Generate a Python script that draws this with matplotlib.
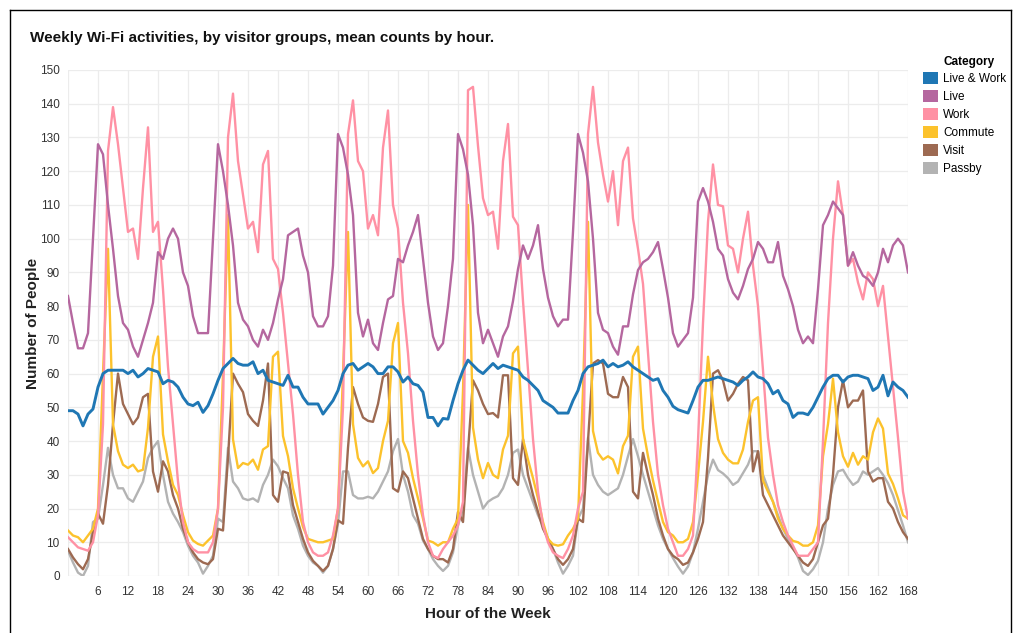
import matplotlib
matplotlib.use("Agg")
import matplotlib.pyplot as plt
from matplotlib.patches import Patch
from matplotlib.lines import Line2D
import numpy as np

plt.rcParams['font.family'] = ['Liberation Sans', 'DejaVu Sans']

## mean counts per hour of the week (h0 .. h168)
hours = np.arange(169)

live_work = [
    49, 49, 48, 44.5, 48, 49.5, 56, 60, 61, 61, 61, 61, 60, 61, 59, 60, 61.5, 61, 60.5, 57, 58, 57.5, 56, 53,
    51, 50.5, 51.5, 48.5, 50.5, 54, 58, 61.5, 63, 64.5, 63, 62.5, 62.5, 63.5, 60, 61, 58, 57.5, 57, 56.5, 59.5, 56, 56, 53,
    51, 51, 51, 48, 50, 52, 55, 60, 62.5, 63, 61, 62, 63, 62, 60, 60, 62, 62, 60.5, 57.5, 59, 57, 56.5, 54.5,
    47, 47, 44.5, 46.7, 46.5, 52, 57, 61, 64, 62.5, 61, 60, 61.5, 63, 61.5, 62.5, 62, 61.5, 61, 59, 58, 56.5, 55, 52,
    51, 50, 48.3, 48.3, 48.3, 52, 55, 60, 62, 62.5, 63, 64, 62, 63, 62, 62.5, 63.5, 62, 61, 60, 59, 58, 58.5, 55,
    53, 50.3, 49.3, 48.8, 48.3, 52, 56, 58, 58, 58.5, 59, 58.5, 58, 57.5, 56.5, 58, 59, 60.5, 59, 58.5, 57, 54, 55, 52,
    51, 47, 48.3, 48.3, 47.8, 50, 53, 56, 58.5, 59.5, 59.5, 57.5, 59, 59.5, 59.5, 59, 58.5, 55, 56, 59.5, 53.4, 57.5, 56, 55, 53,
]

live = [
    83, 75, 67.5, 67.5, 72, 100, 128, 125, 110, 97, 83, 75, 73, 68, 65, 70, 75, 81, 96, 94, 100, 103, 100, 90,
    86, 77, 72, 72, 72, 100, 128, 120, 110, 98, 81, 76, 74, 70, 68, 73, 70, 75, 82, 88, 101, 102, 103, 95,
    90, 77, 74, 74, 77, 92, 131, 127, 119, 107, 78, 71, 76, 69, 67, 75, 82, 83, 94, 93, 98, 102, 107, 94,
    81, 71, 67, 69, 80, 94, 131, 126.5, 119, 104, 78, 69, 73, 69, 65, 71, 74, 81.5, 91, 98, 94, 98, 104, 91,
    82.5, 77, 74, 76, 76, 102, 131, 125.5, 117, 100, 78, 73, 72, 68, 65.6, 74, 74, 83.5, 90.7, 93, 94, 96, 99, 91,
    82.5, 72, 68, 70, 72, 82.5, 111, 115, 111, 105, 97, 95, 88, 84, 82, 86, 91, 94, 99, 97, 93, 93, 99, 89,
    85, 80, 73, 69, 71, 69, 85, 104, 107, 111, 109, 107, 92, 96, 92, 89, 88, 86, 90, 97, 93, 98, 100, 98, 90,
]

work = [
    11.5, 10, 8.5, 8, 7.5, 10, 18, 45, 126, 139, 128, 115, 102, 103, 94, 115, 133, 102, 105, 85, 62, 45, 28, 16,
    10, 8, 7, 7, 7, 10, 20, 50, 130, 143, 123, 113, 103, 105, 96, 122, 126, 94, 91, 78, 63, 48, 30, 16,
    10, 7, 6, 6, 7, 12, 20, 50, 131, 141, 123, 120, 103, 107, 101, 127, 138, 110, 103, 81, 66, 46, 30, 18,
    10, 6, 5.3, 8, 10, 12, 15, 22, 144, 145, 127.5, 112, 107, 108, 97, 123, 134, 106.5, 104, 81.5, 61, 40.6, 25, 15,
    10, 7, 6, 5.3, 8, 12, 20, 25, 131, 145, 128.5, 119, 111, 120, 104, 123, 127, 106, 97, 86.6, 66, 45.7, 30, 21,
    14, 10, 6, 6, 8, 12, 40, 75, 105, 122, 110, 109.6, 98, 97, 90, 100, 108, 92, 80, 61, 41, 30, 21, 16,
    12, 9, 6, 6, 6, 8, 10, 40, 75, 100, 117, 107, 92, 94, 87, 82, 90, 88, 80, 86, 71, 56, 41, 25, 17,
]

commute = [
    13.5, 12, 11.5, 10, 12, 14, 20, 60, 97, 45, 37, 33, 32, 33, 31, 31.5, 44, 65, 71, 42, 34, 27, 24, 18,
    13, 10.5, 9.5, 9, 10.5, 12, 20, 60, 107, 40.5, 32, 33.5, 33, 34.5, 31.5, 37.5, 38.5, 65, 66.5, 41.5, 35.5, 26, 20, 14.5,
    11, 10.5, 10, 10, 10.5, 11, 20, 60, 102, 45, 35, 32.5, 34, 30.5, 32, 40, 46, 69, 75, 40, 36.5, 29, 23, 17,
    10.5, 10, 9, 10, 10, 14, 17, 55, 110, 44, 34.5, 29, 33.5, 30, 29, 37.5, 41.6, 66, 68, 40.6, 34.5, 29, 23, 16,
    11, 9.4, 9, 9.4, 12, 14, 17, 55, 105, 43, 36.5, 34.5, 35.5, 34.5, 30.4, 38.5, 41.6, 65, 68, 43.7, 35.5, 28.3, 22, 16,
    13, 12, 10, 10, 11, 16, 30, 45.7, 65, 51, 40.6, 36.5, 34.5, 33.4, 33.4, 37.5, 45.7, 52, 53, 28.3, 25, 22, 17, 14,
    12, 10.4, 10, 9, 9, 10, 15, 35.5, 45, 58.5, 42.6, 35.5, 32.4, 36.5, 33, 35.5, 34.5, 42.6, 46.7, 43.7, 30.4, 27.3, 23, 18, 17,
]

visit = [
    8, 5.5, 3.5, 2, 5, 13, 18.5, 15.5, 27, 45, 60, 51, 48, 45, 47, 53, 54, 31, 25, 34, 31, 24, 20, 14,
    10, 7, 5, 4, 3.5, 5, 14, 13.5, 35, 60, 57, 54.5, 48, 46, 44.5, 52, 63, 24, 22, 31, 30.5, 21, 16, 11,
    7, 4.5, 3, 1.5, 3, 8, 16.5, 15.5, 38, 56, 51, 47, 46, 45.7, 51, 59, 60, 26, 25, 31, 29, 23, 17, 11,
    8, 6, 5, 5, 4, 8, 19, 16, 37, 58, 55, 51, 48, 48.3, 47, 59.5, 59.5, 29, 27, 40.6, 30, 24, 19, 14,
    11, 8, 5, 3.3, 5, 8, 17, 16, 40, 63, 64, 63, 54, 53, 53, 59, 56, 25, 23, 36.5, 30, 24, 17, 12,
    8, 6, 5, 3.3, 4, 7, 11, 16, 35, 60, 61, 58, 52, 54, 57, 59, 58, 31, 37, 24, 21, 18, 15, 12,
    10, 8, 6, 4, 3, 5, 10, 15, 17, 30, 50, 58, 50, 52, 52, 55, 31, 28, 29, 29, 22, 20, 16, 13, 11,
]

passby = [
    7.5, 4, 1, 0, 3, 16, 17, 27, 38, 30, 26, 26, 23, 22, 25, 28, 35, 38, 40, 30, 22, 18.5, 16, 13,
    9, 6, 4, 0.7, 3, 6, 17, 16, 38, 28, 26, 23, 22.5, 23, 22, 27, 30, 34.5, 32.5, 29, 26, 18, 14, 9,
    6, 4, 3, 1, 3, 8, 15.5, 31, 31, 24, 23, 23, 23.5, 23, 25, 28, 31, 37, 40.6, 30, 25, 18, 15.5, 10.5,
    8, 5, 3, 1.5, 3, 7, 15, 20, 38, 30, 25, 20, 22, 23, 23.7, 26, 30, 36.5, 37.5, 30, 26, 22, 18, 15,
    11, 8, 4, 0.7, 3, 6, 17, 20, 41, 30, 27, 25, 24, 25, 26, 30, 35.5, 40.6, 35.5, 30, 25, 20, 15, 11,
    8, 5.3, 2.8, 0.7, 2.8, 7, 14, 22, 30, 34.5, 31.4, 30.4, 29, 27, 28, 30.5, 33, 37, 37, 30, 26, 22, 18, 14,
    11, 8.5, 5.5, 1.5, 0.3, 2, 4.5, 10, 20, 27, 31, 31.5, 29, 27, 28, 31, 30, 31, 32, 30, 27.5, 24, 19.5, 15, 10,
]

categories = ['Live & Work', 'Live', 'Work', 'Commute', 'Visit', 'Passby']
colors = ['#1f77b4', '#b5679f', '#ff91a4', '#fcc22c', '#9d6a52', '#b3b3b3']
series = [live_work, live, work, commute, visit, passby]

W, H = 1014, 633
fig = plt.figure(figsize=(W / 100, H / 100), dpi=100)
ax = fig.add_axes([68 / W, 1 - 576 / H, 840 / W, 506 / H])

# draw back to front so the blue line ends up on top
for name, col, vals in list(zip(categories, colors, series))[::-1]:
    lw = 2.1 if name == 'Live & Work' else 1.7
    ax.plot(hours, vals, color=col, lw=lw)

ax.set_xlim(0, 168)
ax.set_ylim(0, 150)
ax.set_xticks(np.arange(6, 169, 6))
ax.set_xticks(np.arange(0, 169, 6), minor=True)
ax.set_yticks(np.arange(0, 151, 10))
ax.grid(True, which='both', color='#ececec', lw=0.9)
ax.set_axisbelow(True)
ax.tick_params(which='both', length=0, labelsize=8.5, colors='#333333')
ax.tick_params(axis='y', pad=6)
ax.tick_params(axis='x', pad=7)
for s in ax.spines.values():
    s.set_visible(False)

ax.set_xlabel('Hour of the Week', fontsize=11, fontweight='bold', color='#222222')
ax.set_ylabel('Number of People', fontsize=11, fontweight='bold', color='#222222')
ax.xaxis.set_label_coords(0.5, -0.062)
ax.yaxis.set_label_coords(-0.033, 0.5)

fig.text(30 / W, 1 - 38 / H, 'Weekly Wi-Fi activities, by visitor groups, mean counts by hour.',
         fontsize=11, fontweight='bold', va='center', ha='left', color='#111111')

# legend: coloured squares, title set as separate text aligned with labels
handles = [Patch(facecolor=c, edgecolor='none') for c in colors]
fig.legend(handles, categories, loc='upper left',
           bbox_to_anchor=(923 / W, 1 - 72 / H), frameon=False, fontsize=8.5,
           handlelength=1.25, handleheight=1.25, handletextpad=0.45, labelspacing=0.4,
           borderaxespad=0, borderpad=0)
fig.text(943 / W, 1 - 62 / H, 'Category', fontsize=8.5, fontweight='bold', va='center', ha='left')

# thin frame around the figure
fig.add_artist(Line2D([10 / W, 10 / W], [0, 1 - 10 / H], color='black', lw=1))
fig.add_artist(Line2D([10 / W, 1011 / W], [1 - 10 / H, 1 - 10 / H], color='black', lw=1))
fig.add_artist(Line2D([1011 / W, 1011 / W], [0, 1 - 10 / H], color='black', lw=1))

fig.savefig('out.png', dpi=100)
